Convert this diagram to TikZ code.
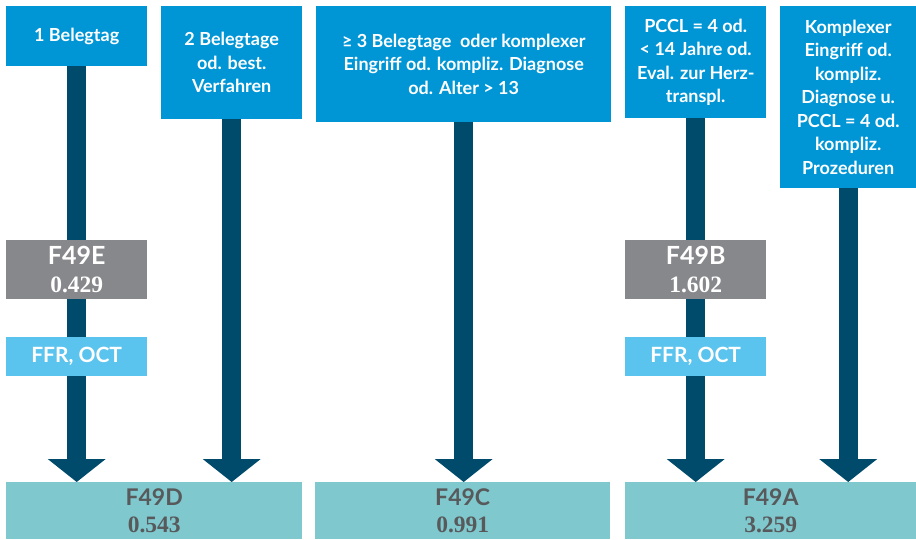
\documentclass[tikz,border=0pt]{standalone}
\usepackage{fontspec}
\setsansfont{Lato}
\setmainfont{Liberation Serif}
\usetikzlibrary{arrows.meta,backgrounds}
\definecolor{kritblau}{HTML}{0096D6}
\definecolor{pfeilblau}{HTML}{004A6B}
\definecolor{drggrau}{HTML}{87888C}
\definecolor{prozblau}{HTML}{5BC4EE}
\definecolor{drgtuerkis}{HTML}{7FC8CE}
\definecolor{textgrau}{HTML}{58595B}
\newcommand{\wert}{\rmfamily\bfseries\fontsize{23.5}{27}\selectfont}
\tikzset{
  krit/.style={fill=kritblau, text=white, inner sep=0pt, anchor=north west, align=center,
    font=\sffamily\bfseries\fontsize{18}{23.5}\selectfont},
  drg/.style={fill=drggrau, text=white, inner sep=0pt, anchor=north west, align=center,
    minimum width=141pt, minimum height=59pt, font=\sffamily\bfseries\fontsize{25}{28}\selectfont},
  proz/.style={fill=prozblau, text=white, inner sep=0pt, anchor=north west,
    minimum width=141pt, minimum height=39pt, font=\sffamily\bfseries\fontsize{21}{23}\selectfont},
  ziel/.style={fill=drgtuerkis, text=textgrau, inner sep=0pt, anchor=north west, align=center,
    minimum height=57pt, font=\sffamily\bfseries\fontsize{23}{27}\selectfont},
  pfeil/.style={pfeilblau, line width=19pt, -{Triangle[width=58pt,length=23pt,line width=0pt]}}
}
\begin{document}
\begin{tikzpicture}[x=1pt,y=-1pt]
  \useasboundingbox (0,0) rectangle (916,539);
  \node[krit, minimum width=141pt, minimum height=60pt] (t1) at (6,6) {1 Belegtag};
  \node[krit, minimum width=141pt, minimum height=113pt] (t2) at (161,6) {2 Belegtage\\od. best.\\Verfahren};
  \node[krit, minimum width=295pt, minimum height=116pt] (t3) at (316,6) {≥ 3 Belegtage\ \ oder komplexer\\Eingriff od. kompliz. Diagnose\\od. Alter > 13};
  \node[krit, minimum width=141pt, minimum height=112pt] (t4) at (625,6) {PCCL = 4 od.\\< 14 Jahre od.\\Eval. zur Herz-\\transpl.};
  \node[krit, minimum width=136pt, minimum height=182pt] (t5) at (780,6) {Komplexer\\Eingriff od.\\kompliz.\\Diagnose u.\\PCCL = 4 od.\\kompliz.\\Prozeduren};

  \node[drg] (e) at (6,240) {F49E\\{\wert 0.429}};
  \node[drg] (b) at (625,240) {F49B\\{\wert 1.602}};
  \node[proz] (o1) at (6,337) {FFR, OCT};
  \node[proz] (o2) at (625,337) {FFR, OCT};

  \node[ziel, minimum width=296pt] (d) at (6,482) {F49D\\{\wert 0.543}};
  \node[ziel, minimum width=295pt] (c) at (315,482) {F49C\\{\wert 0.991}};
  \node[ziel, minimum width=291pt] (a) at (625,482) {F49A\\{\wert 3.259}};

  \begin{scope}[on background layer]
    \draw[pfeil] (t1) -- (t1 |- d.north);
    \draw[pfeil] (t2) -- (t2 |- d.north);
    \draw[pfeil] (t3) -- (t3 |- c.north);
    \draw[pfeil] (t4) -- (t4 |- a.north);
    \draw[pfeil] (t5) -- (t5 |- a.north);
  \end{scope}
\end{tikzpicture}
\end{document}
